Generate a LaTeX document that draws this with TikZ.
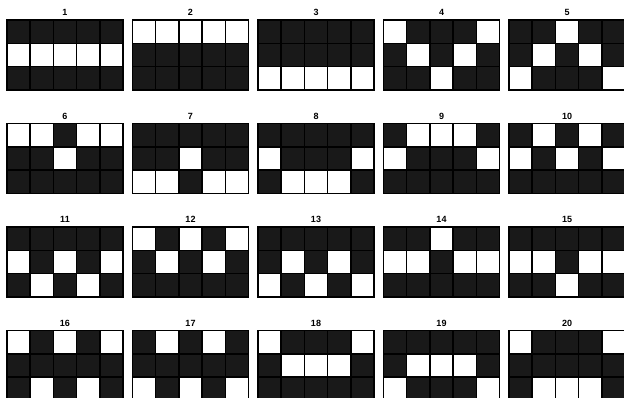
\documentclass[tikz,border=0pt]{standalone}
\usepackage{fontspec}
\setsansfont{Liberation Sans}

\begin{document}
\begin{tikzpicture}[
  x=1pt, y=-1pt,
  panel/.style={fill=black!90},
  hole/.style={fill=white},
  gridline/.style={draw=black, line width=1.5pt},
  num/.style={font=\sffamily\bfseries\fontsize{9}{10}\selectfont, inner sep=0pt}
]
\useasboundingbox (0,0) rectangle (624,397);
% each pattern: white cells as column/row, counted from the top left
\foreach \n/\holes in {
  1/{0/1,1/1,2/1,3/1,4/1},
  2/{0/0,1/0,2/0,3/0,4/0},
  3/{0/2,1/2,2/2,3/2,4/2},
  4/{0/0,4/0,1/1,3/1,2/2},
  5/{2/0,1/1,3/1,0/2,4/2},
  6/{0/0,1/0,3/0,4/0,2/1},
  7/{2/1,0/2,1/2,3/2,4/2},
  8/{0/1,4/1,1/2,2/2,3/2},
  9/{1/0,2/0,3/0,0/1,4/1},
  10/{1/0,3/0,0/1,2/1,4/1},
  11/{0/1,2/1,4/1,1/2,3/2},
  12/{0/0,2/0,4/0,1/1,3/1},
  13/{1/1,3/1,0/2,2/2,4/2},
  14/{2/0,0/1,1/1,3/1,4/1},
  15/{0/1,1/1,3/1,4/1,2/2},
  16/{0/0,2/0,4/0,1/2,3/2},
  17/{1/0,3/0,0/2,2/2,4/2},
  18/{0/0,4/0,1/1,2/1,3/1},
  19/{1/1,2/1,3/1,0/2,4/2},
  20/{0/0,4/0,1/2,2/2,3/2}}{
  \pgfmathsetmacro\px{7+125.5*mod(\n-1,5)}
  \pgfmathsetmacro\py{20+103.5*int((\n-1)/5)}
  \begin{scope}[shift={(\px,\py)}]
    \fill[panel] (0,0) rectangle (116,70);
    \foreach \i/\j in \holes
      \fill[hole] (23.2*\i,23.333*\j) rectangle +(23.2,23.333);
    \foreach \k in {1,...,4}
      \draw[gridline] (23.2*\k,0) -- (23.2*\k,70);
    \foreach \k in {1,2}
      \draw[gridline] (0,23.333*\k) -- (116,23.333*\k);
    \draw[gridline] (0,0) rectangle (116,70);
    \node[num] (lbl\n) at (58,-7.5) {\n};
  \end{scope}
}
\end{tikzpicture}
\end{document}
